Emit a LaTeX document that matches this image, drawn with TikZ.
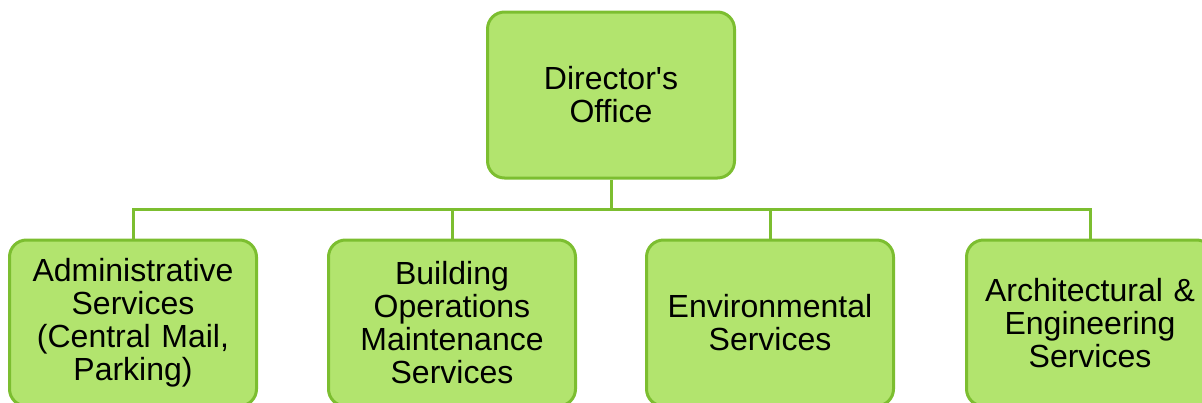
\documentclass[tikz,border=0pt]{standalone}
\usepackage{fontspec}
\setmainfont{Liberation Sans}
\definecolor{boxfill}{RGB}{178,228,110}
\definecolor{boxline}{RGB}{124,190,48}
\begin{document}
\begin{tikzpicture}[x=1pt, y=-1pt,
    unit/.style={draw=boxline, fill=boxfill, line width=3pt, rounded corners=17pt,
        minimum width=247pt, minimum height=166pt, text width=240pt, inner sep=0pt,
        align=center, font=\fontsize{32}{33}\selectfont},
    link/.style={draw=boxline, line width=3pt}]
    \useasboundingbox (0,0) rectangle (1202,402);

    % Top of the chart
    \node[unit] (dir) at (611,95) {Director\textquotesingle s\\Office};

    % Second row
    \node[unit] (adm) at (133,323) {Administrative\\Services\\(Central Mail,\\Parking)};
    \node[unit] (bld) at (452,323) {Building\\Operations\\Maintenance\\Services};
    \node[unit] (env) at (770,323) {Environmental\\Services};
    \node[unit] (arc) at (1090,323) {Architectural \&\\Engineering\\Services};

    % Connectors
    \coordinate (bus) at (611,209);
    \draw[link] (dir.south) -- (bus);
    \foreach \n in {adm, bld, env, arc}
        \draw[link] (bus) -| (\n.north);
\end{tikzpicture}
\end{document}
